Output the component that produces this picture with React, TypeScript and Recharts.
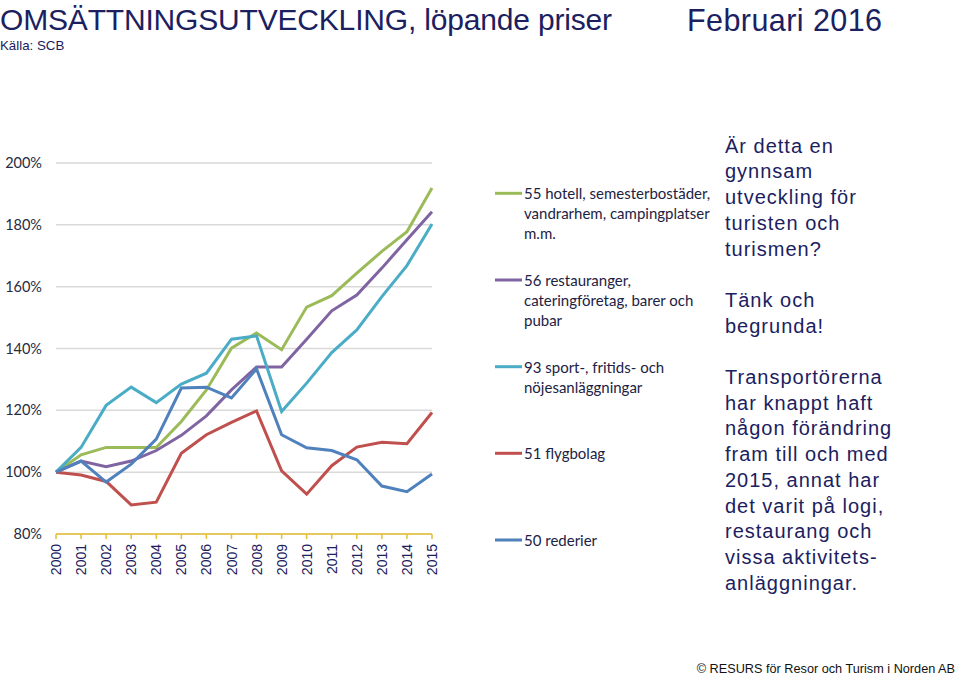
import React from 'react';
import { LineChart, Line, XAxis, YAxis, CartesianGrid } from 'recharts';

const years = ['2000','2001','2002','2003','2004','2005','2006','2007','2008','2009','2010','2011','2012','2013','2014','2015'];
const hotell = [100, 105.6, 108, 108, 108, 116.4, 126.6, 140.1, 145, 139.6, 153.4, 157.1, 164.4, 171.4, 177.8, 191.9];
const restaurang = [100, 103.6, 101.8, 103.6, 107, 111.9, 118.2, 126.6, 134, 134, 143, 152.2, 157.3, 166, 175.2, 184.2];
const sport = [100, 108, 121.6, 127.5, 122.5, 128.5, 132, 143, 144.1, 119.6, 128.8, 138.7, 146, 156.8, 166.8, 180.3];
const flyg = [100, 99.1, 97, 89.4, 90.3, 106.1, 112.1, 116.1, 119.8, 100.4, 92.9, 102.1, 108.1, 109.7, 109.2, 119.3];
const rederier = [100, 103.6, 96.8, 102.6, 110.7, 127.2, 127.5, 124, 133.4, 112.1, 107.9, 107, 104, 95.5, 93.7, 99.4];
const yTicks = [80, 100, 120, 140, 160, 180, 200];

const series = [
  { key: 'hotell', values: hotell, color: '#9bbb59', label: ['55 hotell, semesterbostäder,', 'vandrarhem, campingplatser', 'm.m.'] },
  { key: 'restaurang', values: restaurang, color: '#8064a2', label: ['56 restauranger,', 'cateringföretag, barer och', 'pubar'] },
  { key: 'sport', values: sport, color: '#4bacc6', label: ['93 sport-, fritids- och', 'nöjesanläggningar'] },
  { key: 'flyg', values: flyg, color: '#c0504d', label: ['51 flygbolag'] },
  { key: 'rederier', values: rederier, color: '#4f81bd', label: ['50 rederier'] },
];

const title = 'OMSÄTTNINGSUTVECKLING, löpande priser';
const dateText = 'Februari 2016';
const source = 'Källa: SCB';
const footer = '© RESURS för Resor och Turism i Norden AB';
const sideText = [
  'Är detta en', 'gynnsam', 'utveckling för', 'turisten och', 'turismen?', '',
  'Tänk och', 'begrunda!', '',
  'Transportörerna', 'har knappt haft', 'någon förändring', 'fram till och med',
  '2015, annat har', 'det varit på logi,', 'restaurang och', 'vissa aktivitets-', 'anläggningar.',
];

const data = years.map((y, i) => {
  const row: any = { year: y };
  series.forEach(s => { row[s.key] = s.values[i]; });
  return row;
});

const NAVY = '#1b2160';
const legendY = [193.3, 280, 366.7, 453.3, 540];

const XTick = (props: any) => {
  const { x, payload } = props;
  return (
    <text transform={`translate(${x},544) rotate(-90)`} textAnchor="end" dy="0.36em"
      fontFamily="'Liberation Sans', Arial, sans-serif" fontSize={14} fill={NAVY}>
      {payload.value}
    </text>
  );
};

export default function App() {
  return (
    <div style={{ position: 'absolute', left: 0, top: 0, width: 959, height: 678, background: '#fff', overflow: 'hidden' }}>
      <div style={{ position: 'absolute', left: 0, top: 0 }}>
        <LineChart width={450} height={600} data={data} margin={{ top: 163, right: 18, left: 0, bottom: 6 }}>
          <CartesianGrid horizontal vertical={false} stroke="#d9d9d9" strokeWidth={1.5} />
          <XAxis dataKey="year" height={60} tick={<XTick />} interval={0}
            axisLine={{ stroke: '#e3c034', strokeWidth: 1.5 }} tickLine={{ stroke: '#e3c034', strokeWidth: 1.5 }} tickSize={5} />
          <YAxis width={56} domain={[80, 200]} ticks={yTicks} interval={0} axisLine={false} tickLine={false}
            tickSize={0} tickMargin={14} tickFormatter={(v: number) => `${v}%`}
            tick={{ fontFamily: 'Lato, sans-serif', fontSize: 14.5, fill: '#262b40' }} />
          {series.map(s => (
            <Line key={s.key} dataKey={s.key} stroke={s.color} strokeWidth={3} dot={false}
              type="linear" isAnimationActive={false} />
          ))}
        </LineChart>
      </div>
      <svg width={959} height={678} style={{ position: 'absolute', left: 0, top: 0, pointerEvents: 'none' }}>
        <text x={0} y={30} fontFamily="'Liberation Sans', Arial, sans-serif" fontSize={30} fill={NAVY}
          textLength={612} lengthAdjust="spacing">{title}</text>
        <text x={687} y={31} fontFamily="'Liberation Sans', Arial, sans-serif" fontSize={30.5} fill={NAVY}
          textLength={195} lengthAdjust="spacing">{dateText}</text>
        <text x={0} y={50} fontFamily="'Liberation Sans', Arial, sans-serif" fontSize={13.3} fill={NAVY}>{source}</text>
        <text x={955} y={673} textAnchor="end" fontFamily="'Liberation Sans', Arial, sans-serif" fontSize={12.7} fill="#111">{footer}</text>
        {series.map((s, i) => (
          <g key={s.key}>
            <line x1={495} x2={522} y1={legendY[i]} y2={legendY[i]} stroke={s.color} strokeWidth={3} />
            <text x={524} y={legendY[i] + 6} fontFamily="Lato, sans-serif" fontSize={15} fill="#1c2244">
              {s.label.map((l, j) => (
                <tspan key={j} x={524} dy={j === 0 ? 0 : 20}>{l}</tspan>
              ))}
            </text>
          </g>
        ))}
        <text x={725} y={152.7} fontFamily="'Liberation Sans', Arial, sans-serif" fontSize={20} fill={NAVY} letterSpacing={1}>
          {sideText.map((l, j) => (
            <tspan key={j} x={725} dy={j === 0 ? 0 : 25.7}>{l || ' '}</tspan>
          ))}
        </text>
      </svg>
    </div>
  );
}
